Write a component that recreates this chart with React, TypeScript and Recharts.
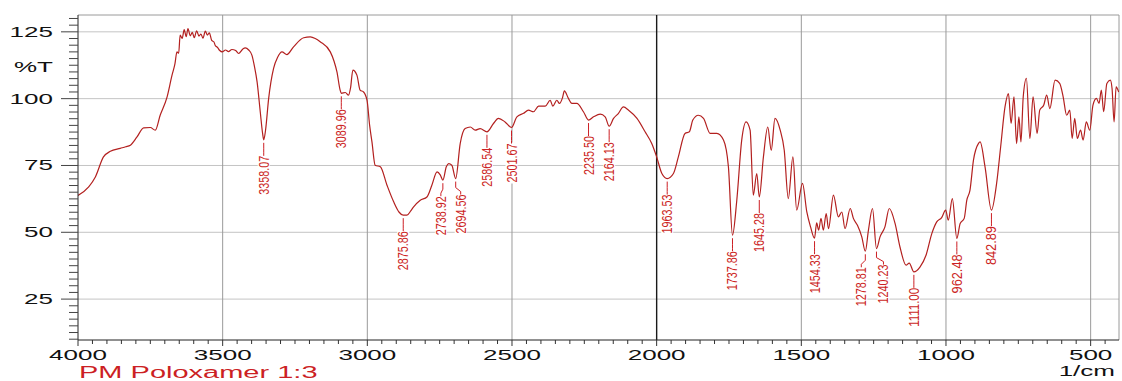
import React from "react";
import {
  ComposedChart,
  Line,
  Scatter,
  XAxis,
  YAxis,
  ReferenceLine,
} from "recharts";

// spectrum (1/cm, %T)
const wavenumbers = [
  4000, 3963, 3940, 3912, 3888, 3854, 3835, 3819, 3796, 3773, 3750, 3733, 3716, 3692, 3675, 3665,
  3658, 3652, 3647, 3640, 3633, 3626, 3620, 3612, 3605, 3598, 3590, 3582, 3575, 3568, 3560, 3553,
  3546, 3538, 3530, 3526, 3518, 3510, 3502, 3490, 3480, 3468, 3455, 3445, 3430, 3422, 3410, 3399,
  3390, 3381, 3370, 3362, 3358.07, 3352, 3341, 3324, 3310, 3295, 3278, 3255, 3220, 3197, 3180, 3163,
  3128, 3115, 3105, 3094, 3089.96, 3076, 3065, 3058, 3050, 3036, 3025, 3013, 3001, 2992, 2984, 2973,
  2955, 2932, 2909, 2890, 2875.86, 2863, 2850, 2840, 2817, 2794, 2777, 2759, 2748, 2738.92, 2727, 2719,
  2708, 2694.56, 2679, 2662, 2644, 2627, 2610, 2586.54, 2564, 2547, 2524, 2501.67, 2483, 2460, 2443, 2426,
  2408, 2385, 2368, 2359, 2345, 2336, 2325, 2319, 2305, 2293, 2276, 2253, 2235.5, 2218, 2195, 2178,
  2164.13, 2149, 2132, 2115, 2097, 2068, 2040, 2017, 2000, 1982, 1963.53, 1942, 1925, 1902, 1887, 1875,
  1856, 1838, 1815, 1792, 1769, 1752, 1737.86, 1723, 1706, 1691, 1677, 1666, 1654, 1645.28, 1631, 1616,
  1604, 1591, 1573, 1559, 1545, 1529, 1516, 1496, 1481, 1468, 1454.33, 1447, 1440, 1432, 1424, 1414,
  1406, 1389, 1372, 1360, 1349, 1331, 1320, 1306, 1291, 1278.81, 1268, 1254, 1240.23, 1228, 1211, 1196,
  1176, 1159, 1138, 1127, 1111, 1090, 1069, 1049, 1032, 1015, 1001, 992, 978, 962.48, 951, 937,
  928, 917, 905, 888, 882, 865, 842.89, 825, 811, 796, 784, 775, 765, 756, 748, 741,
  733, 722, 710, 699, 685, 676, 662, 652, 641, 623, 607, 595, 583, 572, 564, 555,
  546, 535, 526, 515, 503, 492, 480, 471, 463, 455, 444, 432, 426, 419, 412, 403,
];

const transmittance = [
  63.8, 67.0, 70.7, 78.2, 80.3, 81.4, 82.0, 82.6, 85.7, 89.1, 89.2, 88.2, 93.8, 100.7, 108.8, 113.0,
  117.5, 117.0, 123.8, 122.5, 125.8, 123.2, 126.2, 123.5, 124.8, 122.8, 125.4, 123.4, 124.2, 122.6, 125.3, 123.8,
  124.6, 121.8, 121.2, 120.0, 119.2, 118.0, 117.5, 118.2, 117.6, 118.4, 118.0, 116.9, 118.6, 119.0, 118.2, 116.3,
  112.0, 106.3, 95.0, 87.0, 84.6, 88.0, 100.1, 111.3, 115.5, 117.5, 116.5, 119.4, 122.8, 123.1, 122.5, 121.3,
  117.5, 114.0, 110.0, 103.2, 102.0, 102.3, 101.3, 104.0, 110.7, 108.8, 103.2, 102.5, 99.4, 90.0, 83.8, 75.1,
  74.5, 67.6, 61.4, 57.5, 56.4, 56.4, 58.0, 59.5, 62.0, 63.2, 67.6, 72.6, 71.5, 69.5, 74.5, 75.7,
  75.1, 70.1, 83.2, 88.8, 89.4, 88.2, 88.8, 87.6, 90.7, 92.6, 91.3, 89.2, 93.2, 94.5, 95.7, 95.1,
  97.2, 97.2, 99.4, 97.2, 99.4, 98.2, 100.5, 102.9, 100.1, 98.2, 98.2, 95.1, 92.0, 93.2, 94.2, 93.2,
  89.7, 92.6, 94.5, 96.9, 95.7, 92.6, 87.6, 83.2, 78.2, 72.0, 70.1, 72.0, 78.2, 87.0, 87.6, 92.0,
  93.8, 92.6, 87.0, 87.0, 84.5, 74.5, 48.9, 62.0, 84.5, 91.3, 88.2, 63.9, 72.0, 63.2, 78.2, 89.4,
  80.7, 92.6, 88.2, 80.7, 62.6, 78.2, 58.3, 68.3, 57.6, 52.0, 47.8, 53.5, 50.8, 55.2, 50.8, 57.0,
  51.4, 63.9, 55.8, 57.6, 51.4, 58.9, 55.2, 52.6, 48.3, 42.9, 50.8, 58.9, 43.9, 48.3, 52.0, 58.9,
  53.3, 44.5, 37.7, 38.5, 35.2, 37.0, 41.4, 49.5, 53.9, 55.5, 58.3, 54.5, 62.6, 47.7, 53.3, 55.2,
  62.0, 65.8, 77.0, 83.2, 83.8, 74.5, 58.3, 68.3, 82.0, 96.9, 101.9, 90.7, 100.7, 83.2, 93.2, 83.8,
  100.7, 107.6, 85.1, 100.7, 87.0, 95.7, 97.6, 101.3, 96.3, 106.9, 105.7, 100.7, 93.8, 95.7, 85.1, 92.6,
  85.1, 88.2, 84.5, 91.3, 88.2, 97.6, 100.1, 98.2, 103.2, 95.1, 105.7, 106.9, 103.8, 91.3, 104.4, 102.5,
];

// labelled peaks
const peakWn = [
  3358.07, 3089.96, 2875.86, 2738.92, 2694.56, 2586.54, 2501.67, 2235.5, 2164.13, 1963.53, 1737.86,
  1645.28, 1454.33, 1278.81, 1240.23, 1111.0, 962.48, 842.89,
];
const peakT = [84.6, 102.0, 56.4, 69.5, 70.1, 87.6, 89.2, 92.0, 89.7, 70.1, 48.9, 63.2, 47.8, 42.9, 43.9, 35.2, 47.7, 58.3];

const majorX = [3500, 3000, 2500, 1500, 1000, 500];
const majorY = [25, 50, 75, 100, 125];

const X_MIN = 402;
const X_MAX = 4000;
const Y_MIN = 9.7;
const Y_MAX = 131.3;

const spectrum = wavenumbers.map((wn, i) => ({ wn, t: transmittance[i] }));
const peaks = peakWn.map((wn, i) => ({ wn, t: peakT[i], label: wn.toFixed(2) }));

const minorX: number[] = [];
for (let v = 4000; v >= 450; v -= 50) minorX.push(v);
const minorY: number[] = [];
for (let v = 10; v <= 130; v += 2.5) minorY.push(v);

// crowded labels get a small sideways kink in the leader
const leaderShift: Record<string, number> = {
  "2738.92": -2,
  "2694.56": 5,
  "1278.81": -4,
  "1240.23": 7,
};

const FONT = "'Liberation Sans', Arial, sans-serif";
const LINE_RED = "#b3201f";
const TEXT_RED = "#cc1f24";

const XTick = (props: any) => {
  const { x, y, payload } = props;
  const major = payload.value % 500 === 0;
  return (
    <g>
      <line x1={x} x2={x} y1={y} y2={y + (major ? 6 : 4)} stroke="#333" strokeWidth={1} />
      {major && (
        <text
          transform={`translate(${x},${y + 20}) scale(1,0.56)`}
          textAnchor="middle"
          fontSize={26}
          fontFamily={FONT}
          fill="#111"
        >
          {payload.value}
        </text>
      )}
    </g>
  );
};

const YTick = (props: any) => {
  const { x, y, payload } = props;
  const major = payload.value % 25 === 0;
  return (
    <g>
      <line x1={x - (major ? 17 : 9)} x2={x} y1={y} y2={y} stroke="#444" strokeWidth={1} />
      {major && (
        <text
          transform={`translate(${x - 25},${y + 5}) scale(1,0.56)`}
          textAnchor="end"
          fontSize={26}
          fontFamily={FONT}
          fill="#111"
        >
          {payload.value}
        </text>
      )}
    </g>
  );
};

const PeakMark = (props: any) => {
  const { cx, cy, payload } = props;
  if (cx == null || cy == null) return null;
  const dx = leaderShift[payload.label] || 0;
  const tx = cx + dx;
  const top = cy + 16;
  const len = 39;
  return (
    <g>
      <rect x={tx - 6} y={top - 1} width={12} height={len + 2} fill="#fff" />
      <polyline
        points={`${cx},${cy + 3} ${cx},${cy + 9} ${tx},${cy + 13} ${tx},${top}`}
        fill="none"
        stroke={TEXT_RED}
        strokeWidth={1}
      />
      <text
        transform={`translate(${tx},${top + len}) rotate(-90)`}
        textAnchor="start"
        dominantBaseline="central"
        fontSize={14}
        fontFamily={FONT}
        fill={TEXT_RED}
        textLength={len}
        lengthAdjust="spacingAndGlyphs"
      >
        {payload.label}
      </text>
    </g>
  );
};

export default function App() {
  return (
    <div style={{ position: "absolute", left: 0, top: 0, background: "#fff" }}>
      <ComposedChart
        width={1122}
        height={381}
        data={spectrum}
        margin={{ top: 15, right: 3, left: 0, bottom: 0 }}
      >
        <XAxis
          dataKey="wn"
          type="number"
          domain={[X_MIN, X_MAX]}
          reversed
          allowDataOverflow
          ticks={minorX}
          interval={0}
          tickSize={0}
          tickMargin={0}
          tickLine={false}
          tick={<XTick />}
          axisLine={{ stroke: "#222" }}
          height={41}
          label={{
            content: () => (
              <g>
                <text
                  transform="translate(79,378) scale(1,0.56)"
                  fontSize={29}
                  fontFamily={FONT}
                  fill={TEXT_RED}
                >
                  PM Poloxamer 1:3
                </text>
                <text
                  transform="translate(1115,376) scale(1,0.56)"
                  textAnchor="end"
                  fontSize={26}
                  fontFamily={FONT}
                  fill="#111"
                >
                  1/cm
                </text>
              </g>
            ),
          }}
        />
        <YAxis
          type="number"
          domain={[Y_MIN, Y_MAX]}
          allowDataOverflow
          ticks={minorY}
          interval={0}
          tickSize={0}
          tickMargin={0}
          tickLine={false}
          tick={<YTick />}
          axisLine={{ stroke: "#222" }}
          width={78}
          label={{
            content: () => (
              <text
                transform="translate(53,72) scale(1,0.56)"
                textAnchor="end"
                fontSize={26}
                fontFamily={FONT}
                fill="#111"
              >
                %T
              </text>
            ),
          }}
        />
        {majorY.map((v) => (
          <ReferenceLine key={`gy${v}`} y={v} stroke="#c4c4c4" />
        ))}
        {majorX.map((v) => (
          <ReferenceLine key={`gx${v}`} x={v} stroke="#9a9a9a" />
        ))}
        <ReferenceLine y={Y_MAX} stroke="#9a9a9a" />
        <ReferenceLine x={X_MIN} stroke="#9a9a9a" />
        <ReferenceLine x={2000} stroke="#1a1a1a" strokeWidth={1.4} />
        <Line
          dataKey="t"
          type="monotoneX"
          stroke={LINE_RED}
          strokeWidth={1.2}
          dot={false}
          activeDot={false}
          isAnimationActive={false}
        />
        <Scatter
          data={peaks}
          dataKey="t"
          shape={(p: any) => <PeakMark {...p} />}
          isAnimationActive={false}
        />
      </ComposedChart>
    </div>
  );
}
